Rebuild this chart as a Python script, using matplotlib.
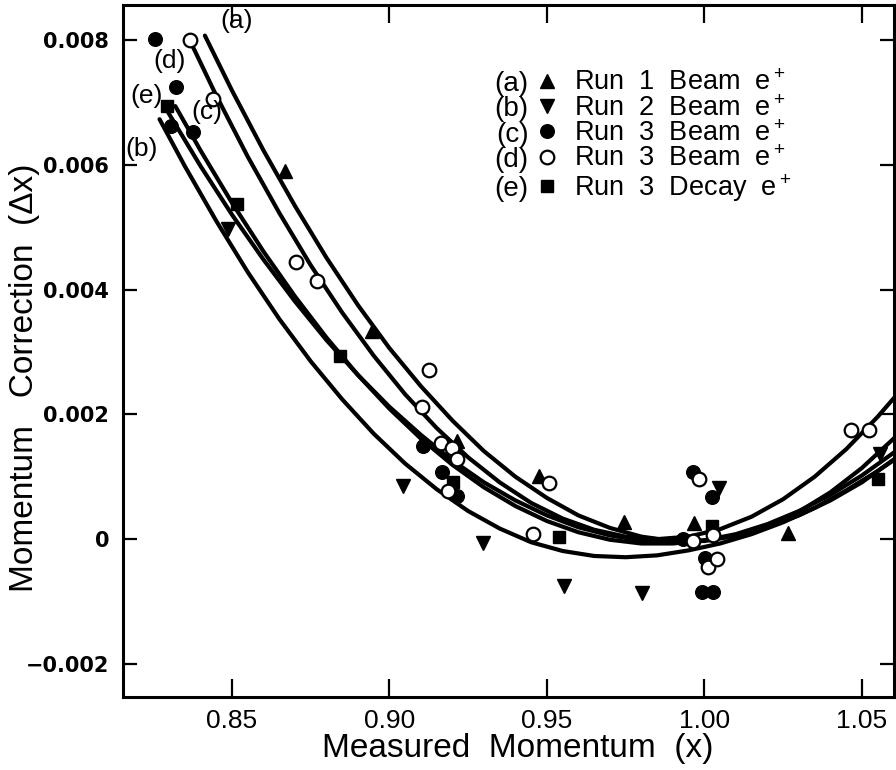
import matplotlib
matplotlib.use('Agg')
import matplotlib.pyplot as plt

plt.rcParams['font.family'] = ['Liberation Sans', 'DejaVu Sans']
plt.rcParams['mathtext.fontset'] = 'custom'
plt.rcParams['mathtext.rm'] = 'Liberation Sans'
plt.rcParams['mathtext.it'] = 'Liberation Sans:italic'
plt.rcParams['mathtext.bf'] = 'Liberation Sans:bold'

# ---------------- data ----------------
run1_x = [0.8668, 0.8944, 0.9214, 0.9475, 0.9744, 0.9967, 1.0265]
run1_y = [0.00590, 0.00333, 0.00157, 0.00101, 0.00028, 0.00026, 0.00010]

run2_x = [0.8487, 0.9043, 0.9297, 0.9554, 0.9802, 1.0046, 1.0557]
run2_y = [0.00497, 0.00085, -0.00006, -0.00075, -0.00087, 0.00082, 0.00136]

run3c_x = [0.8256, 0.8322, 0.8306, 0.8376, 0.9106, 0.9167, 0.9214, 0.9932,
           0.9963, 0.9992, 1.0027, 1.0002, 1.0024]
run3c_y = [0.00801, 0.00724, 0.00662, 0.00652, 0.00149, 0.00107, 0.00069, 0.00000,
           0.00107, -0.00085, -0.00085, -0.00030, 0.00067]

run3d_x = [0.8367, 0.8440, 0.8703, 0.8770, 0.9125, 0.9103, 0.9163, 0.9198, 0.9214,
           0.9186, 0.9506, 0.9456, 0.9963, 0.9983, 1.0027, 1.0011, 1.0040, 1.0465, 1.0522]
run3d_y = [0.00800, 0.00705, 0.00444, 0.00413, 0.00271, 0.00211, 0.00154, 0.00146, 0.00128,
           0.00077, 0.00090, 0.00008, -0.00003, 0.00096, 0.00006, -0.00045, -0.00032, 0.00175, 0.00175]

run3e_x = [0.8294, 0.8516, 0.8843, 0.9202, 0.9538, 1.0024, 1.0551]
run3e_y = [0.00694, 0.00537, 0.00293, 0.00092, 0.00003, 0.00021, 0.00096]

# fitted curves
curve_a_x = [0.8414, 0.850, 0.860, 0.870, 0.880, 0.890, 0.900, 0.910, 0.920, 0.930, 0.940,
             0.950, 0.960, 0.970, 0.980, 0.990, 1.000, 1.010, 1.020, 1.030, 1.040, 1.050, 1.0605]
curve_a_y = [0.00807, 0.00719, 0.00623, 0.00534, 0.00451, 0.00375, 0.00306, 0.00245, 0.00190,
             0.00141, 0.00100, 0.00066, 0.00038, 0.00018, 0.00004, -0.00003, -0.00003, 0.00005,
             0.00020, 0.00044, 0.00075, 0.00114, 0.00163]

curve_b_x = [0.827, 0.835, 0.845, 0.855, 0.865, 0.875, 0.885, 0.895, 0.905, 0.915, 0.925,
             0.935, 0.945, 0.955, 0.965, 0.975, 0.985, 0.995, 1.005, 1.015, 1.025, 1.035,
             1.045, 1.055, 1.0605]
curve_b_y = [0.00673, 0.00598, 0.00510, 0.00428, 0.00353, 0.00285, 0.00224, 0.00169, 0.00121,
             0.00080, 0.00045, 0.00017, -0.00005, -0.00019, -0.00027, -0.00029, -0.00026,
             -0.00018, -0.00007, 0.00008, 0.00027, 0.00050, 0.00078, 0.00109, 0.00128]

curve_c_x = [0.832, 0.840, 0.850, 0.860, 0.870, 0.880, 0.890, 0.900, 0.910, 0.920, 0.930,
             0.940, 0.950, 0.960, 0.970, 0.980, 0.990, 1.000, 1.010, 1.020, 1.030, 1.040,
             1.050, 1.0605]
curve_c_y = [0.00694, 0.00623, 0.00539, 0.00461, 0.00389, 0.00323, 0.00263, 0.00209, 0.00161,
             0.00119, 0.00083, 0.00053, 0.00029, 0.00011, -0.00001, -0.00007, -0.00007,
             -0.00002, 0.00008, 0.00024, 0.00045, 0.00071, 0.00102, 0.00140]

curve_d_x = [0.8375, 0.845, 0.855, 0.865, 0.875, 0.885, 0.895, 0.905, 0.915, 0.925, 0.935,
             0.945, 0.955, 0.965, 0.975, 0.985, 0.995, 1.005, 1.015, 1.025, 1.035, 1.045,
             1.055, 1.0605]
curve_d_y = [0.00790, 0.00711, 0.00613, 0.00523, 0.00439, 0.00363, 0.00294, 0.00232, 0.00178,
             0.00131, 0.00091, 0.00058, 0.00033, 0.00015, 0.00004, 0.00000, 0.00004, 0.00016,
             0.00036, 0.00064, 0.00100, 0.00144, 0.00196, 0.00228]

curve_e_x = [0.829, 0.840, 0.850, 0.860, 0.870, 0.880, 0.890, 0.900, 0.910, 0.920, 0.930,
             0.940, 0.950, 0.960, 0.970, 0.980, 0.990, 1.000, 1.010, 1.020, 1.030, 1.040,
             1.050, 1.0605]
curve_e_y = [0.00690, 0.00598, 0.00520, 0.00448, 0.00381, 0.00319, 0.00263, 0.00212, 0.00167,
             0.00126, 0.00091, 0.00062, 0.00038, 0.00019, 0.00006, -0.00002, -0.00005,
             -0.00002, 0.00006, 0.00019, 0.00038, 0.00062, 0.00091, 0.00129]

series_tags = ['(a)', '(b)', '(c)', '(d)', '(e)']
series_labels = ['Run  1  Beam  e$^+$', 'Run  2  Beam  e$^+$', 'Run  3  Beam  e$^+$',
                 'Run  3  Beam  e$^+$', 'Run  3  Decay  e$^+$']

x_ticks = [0.85, 0.90, 0.95, 1.00, 1.05]
x_ticklabels = ['0.85', '0.90', '0.95', '1.00', '1.05']
y_ticks = [-0.002, 0.0, 0.002, 0.004, 0.006, 0.008]
y_ticklabels = ['\u22120.002', '0', '0.002', '0.004', '0.006', '0.008']

# ---------------- figure ----------------
fig = plt.figure(figsize=(8.96, 7.70), dpi=100)
ax = fig.add_axes([123 / 896, 73 / 770, 771 / 896, 692 / 770])

lw = 3.0
for cx, cy in [(curve_a_x, curve_a_y), (curve_b_x, curve_b_y), (curve_c_x, curve_c_y),
               (curve_d_x, curve_d_y), (curve_e_x, curve_e_y)]:
    ax.plot(cx, cy, color='black', lw=lw, solid_capstyle='round', solid_joinstyle='round', zorder=2)

h_a, = ax.plot(run1_x, run1_y, linestyle='none', marker='^', ms=10.5, color='black', zorder=3)
h_b, = ax.plot(run2_x, run2_y, linestyle='none', marker='v', ms=10.5, color='black', zorder=3)
h_c, = ax.plot(run3c_x, run3c_y, linestyle='none', marker='o', ms=9.8, color='black', zorder=3)
h_d, = ax.plot(run3d_x, run3d_y, linestyle='none', marker='o', ms=9.8, mfc='white',
               mec='black', mew=1.6, zorder=4)
h_e, = ax.plot(run3e_x, run3e_y, linestyle='none', marker='s', ms=9.2, color='black', zorder=3)

ax.set_xlim(0.8154, 1.0602)
ax.set_ylim(-0.00253, 0.00856)

ax.set_xticks(x_ticks)
ax.set_xticklabels(x_ticklabels)
ax.set_yticks(y_ticks)
ax.set_yticklabels(y_ticklabels)

ax.tick_params(axis='both', direction='in', top=True, right=True, width=1.6)
ax.tick_params(axis='x', length=13, pad=9)
ax.tick_params(axis='y', length=10, pad=10)
for lbl in ax.get_xticklabels():
    lbl.set_fontfamily(['Liberation Sans Narrow', 'Liberation Sans'])
    lbl.set_fontsize(19)
for lbl in ax.get_yticklabels():
    lbl.set_fontfamily(['DejaVu Sans'])
    lbl.set_fontweight('bold')
    lbl.set_fontsize(15)

for sp in ax.spines.values():
    sp.set_linewidth(2.2)

ax.set_xlabel('Measured  Momentum  (x)', fontsize=24)
ax.xaxis.set_label_coords(0.512, -0.052)
ax.set_ylabel('Momentum   Correction  (\u0394x)', fontsize=24)
ax.yaxis.set_label_coords(-0.108, 0.462)

# curve labels
for tag, (tx, ty) in zip(['(a)', '(d)', '(e)', '(c)', '(b)'],
                         [(0.8516, 0.00830), (0.8303, 0.00766), (0.8230, 0.00710),
                          (0.8421, 0.00684), (0.8214, 0.00625)]):
    ax.text(tx, ty, tag, fontsize=19, ha='center', va='center', zorder=5)

# legend
leg = ax.legend([h_a, h_b, h_c, h_d, h_e], series_labels, loc='upper left',
                bbox_to_anchor=(0.538, 0.906), frameon=False, fontsize=19.5,
                handlelength=0.7, handletextpad=0.65, labelspacing=-0.02,
                borderpad=0, borderaxespad=0, markerscale=1.0)
leg.set_zorder(6)
for tag, txt in zip(series_tags, leg.get_texts()):
    ax.annotate(tag, xy=(0, 0.47), xycoords=txt, xytext=(-33, 0),
                textcoords='offset points', ha='right', va='center', fontsize=20,
                zorder=7)

fig.canvas.draw()
fig.savefig('out.png', dpi=100)
